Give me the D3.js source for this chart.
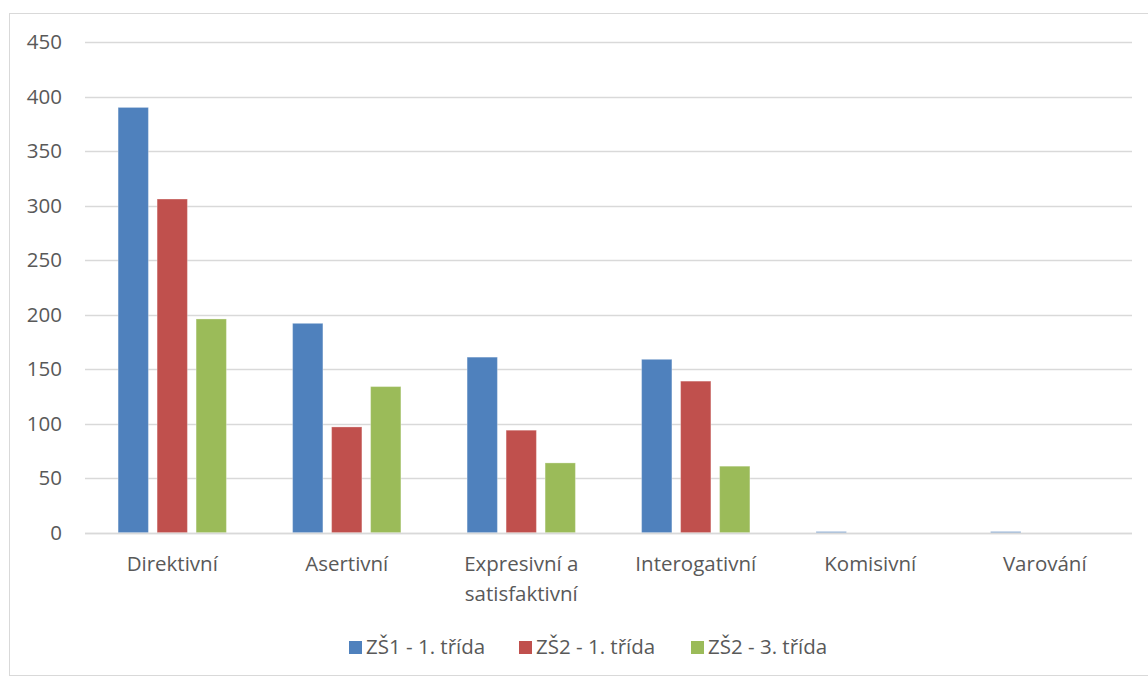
<!DOCTYPE html>
<html>
<head>
<meta charset="utf-8">
<script src="https://cdn.jsdelivr.net/npm/d3@7/dist/d3.min.js"></script>
<style>
html,body{margin:0;padding:0;background:#fff;}
svg{display:block;}
</style>
</head>
<body>
<svg id="chart" width="1148" height="676"></svg>
<script>
const categories = [["Direktivní"], ["Asertivní"], ["Expresivní a", "satisfaktivní"], ["Interogativní"], ["Komisivní"], ["Varování"]];
const seriesNames = ["ZŠ1 - 1. třída", "ZŠ2 - 1. třída", "ZŠ2 - 3. třída"];
const zs1_1 = [390, 192, 161, 159, 1, 1];
const zs2_1 = [306, 97, 94, 139, 0, 0];
const zs2_3 = [196, 134, 64, 61, 0, 0];
const yTicks = [0, 50, 100, 150, 200, 250, 300, 350, 400, 450];
const colors = ["#4F81BD", "#C0504D", "#9BBB59"];

(function () {
const series = [zs1_1, zs2_1, zs2_3];
const svg = d3.select("#chart");
const font = "'Open Sans', 'Noto Sans', sans-serif";
const fs = 20.5;

// outer border
svg.append("rect").attr("x", 9.5).attr("y", 13.5).attr("width", 1148).attr("height", 662)
  .attr("fill", "none").attr("stroke", "#d9d9d9").attr("stroke-width", 1);

const pLeft = 85, pRight = 1132, pTop = 42, pBottom = 532.7;
const x0 = d3.scaleBand().domain(d3.range(categories.length)).range([pLeft, pRight]).paddingInner(0).paddingOuter(0);
const y = d3.scaleLinear().domain([0, 450]).range([pBottom, pTop]);

// gridlines
svg.append("g").selectAll("line").data(yTicks).join("line")
  .attr("x1", pLeft).attr("x2", pRight)
  .attr("y1", d => Math.round(y(d)) + 0.5).attr("y2", d => Math.round(y(d)) + 0.5)
  .attr("stroke", "#d9d9d9").attr("stroke-width", 1.3);

// y axis labels
const yAxis = d3.axisLeft(y).tickValues(yTicks).tickSize(0).tickPadding(0);
const ya = svg.append("g").attr("transform", `translate(62,0)`).call(yAxis);
ya.select(".domain").remove();
ya.selectAll("text").attr("font-family", font).attr("font-size", fs).attr("fill", "#595959").attr("dy", "0.33em");

// bars
const barW = 30.3, gap = 8.7;
const groupW = 3 * barW + 2 * gap;
const x1 = d3.scaleBand().domain(d3.range(3)).range([0, groupW]).paddingInner(gap / (barW + gap)).paddingOuter(0);
const barData = [];
series.forEach((s, si) => s.forEach((v, ci) => barData.push({ si, ci, v })));
svg.append("g").selectAll("rect").data(barData).join("rect")
  .attr("x", d => x0(d.ci) + (x0.bandwidth() - groupW) / 2 + x1(d.si))
  .attr("width", x1.bandwidth())
  .attr("y", d => y(d.v))
  .attr("height", d => y(0) - y(d.v))
  .attr("fill", d => colors[d.si])
  .attr("stroke", "rgba(255,255,255,0.3)").attr("stroke-width", 1);

// baseline
svg.append("line").attr("x1", pLeft).attr("x2", pRight).attr("y1", Math.round(y(0)) + 0.5).attr("y2", Math.round(y(0)) + 0.5)
  .attr("stroke", "#d9d9d9").attr("stroke-width", 1.3);

// category labels
const cat = svg.append("g").selectAll("text").data(categories).join("text")
  .attr("x", (d, i) => x0(i) + x0.bandwidth() / 2)
  .attr("y", 571)
  .attr("text-anchor", "middle")
  .attr("font-family", font).attr("font-size", fs).attr("fill", "#595959");
cat.selectAll("tspan").data(d => d).join("tspan")
  .attr("x", function () { return d3.select(this.parentNode).attr("x"); })
  .attr("dy", (d, i) => i === 0 ? 0 : 30)
  .text(d => d);

// legend
const legendX = [349, 519, 691];
const lg = svg.append("g").selectAll("g").data(seriesNames).join("g")
  .attr("transform", (d, i) => `translate(${legendX[i]},0)`);
lg.append("rect").attr("x", 0).attr("y", 641).attr("width", 13).attr("height", 13).attr("fill", (d, i) => colors[i]);
lg.append("text").attr("x", 17).attr("y", 654).attr("font-family", font).attr("font-size", fs)
  .attr("fill", "#595959").text(d => d);
})();
</script>
</body>
</html>
